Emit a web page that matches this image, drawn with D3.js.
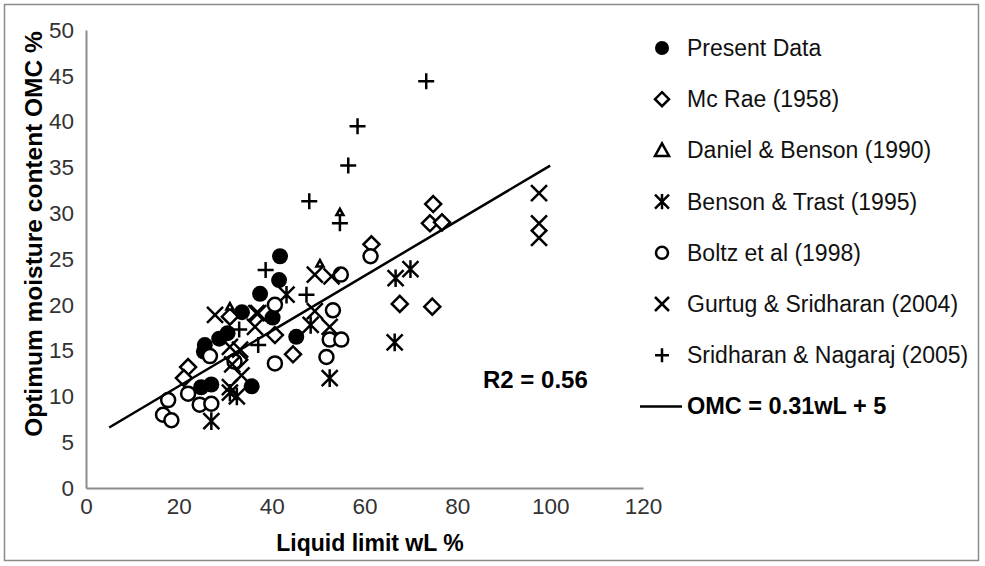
<!DOCTYPE html>
<html lang="en">
<head>
<meta charset="UTF-8" />
<title>OMC vs Liquid limit</title>
<script src="https://d3js.org/d3.v7.min.js"></script>
<style>
  body { margin: 0; background: #fff; }
  svg { display: block; font-family: "Liberation Sans", Arial, sans-serif; }
</style>
</head>
<body>
<div id="chart"></div>
<script>
// data: [wL %, OMC %]
const presentData = [[41.8,25.3],[41.6,22.7],[37.5,21.2],[40.2,18.6],[33.6,19.2],[45.3,16.5],[35.7,11.1],
  [25.6,15.6],[28.7,16.3],[25.4,14.9],[27.0,11.3],[24.8,11.0],[30.5,16.9]];
const mcRae = [[74.8,31.0],[74.1,28.9],[76.7,29.0],[61.5,26.6],[67.6,20.1],[74.6,19.8],
  [40.7,16.7],[44.6,14.6],[22.0,13.2],[21.1,12.0],[31.0,18.7],[33.0,14.0]];
const danielBenson = [[54.7,30.1],[50.4,24.5],[31.0,19.8]];
const bensonTrast = [[66.7,22.9],[69.9,23.9],[66.5,15.9],[43.2,21.1],[48.4,17.8],[52.5,12.0],
  [31.0,10.4],[32.5,10.0],[27.0,7.3]];
const boltz = [[61.3,25.3],[54.9,23.3],[40.7,20.0],[53.2,19.4],[52.5,16.2],[55.0,16.2],[51.8,14.3],
  [40.7,13.6],[26.7,14.4],[22.0,10.3],[24.5,9.1],[27.0,9.2],[17.7,9.6],[16.6,8.0],[18.4,7.4],[32.0,13.8]];
const gurtug = [[97.6,32.2],[97.6,28.9],[97.6,27.3],[49.3,23.3],[52.9,23.1],[49.3,19.3],[52.5,17.6],
  [37.1,19.1],[27.8,18.9],[36.7,19.1],[36.4,17.6],[31.0,15.4],[33.2,15.1],[31.5,13.5],[33.5,12.3],[31.0,11.0]];
const sridharan = [[73.3,44.4],[58.5,39.5],[56.5,35.2],[48.1,31.3],[54.7,28.9],[38.7,23.8],[47.5,21.1],
  [37.1,15.6],[33.0,17.3]];

const seriesNames = ["Present Data", "Mc Rae (1958)", "Daniel & Benson (1990)", "Benson & Trast (1995)",
  "Boltz et al (1998)", "Gurtug & Sridharan (2004)", "Sridharan & Nagaraj (2005)"];
const seriesShapes = ["dot", "diamond", "triangle", "star", "circle", "cross", "plus"];
const seriesData = [presentData, mcRae, danielBenson, bensonTrast, boltz, gurtug, sridharan];
// the Daniel & Benson markers are drawn tiny inside the plot
const plotSizes = [8, 8, 3.5, 8, 8, 8, 8];

const fitX = [5, 100];
const fitY = [6.6, 35.2];
const fitLabel = "OMC = 0.31wL + 5";
const r2Label = "R2 = 0.56";

const xTicks = [0, 20, 40, 60, 80, 100, 120];
const yTicks = [0, 5, 10, 15, 20, 25, 30, 35, 40, 45, 50];

const width = 985, height = 566;
const svg = d3.select("#chart").append("svg")
  .attr("width", width).attr("height", height);

// outer frame
svg.append("rect")
  .attr("x", 4.5).attr("y", 4.5).attr("width", 974).attr("height", 556)
  .attr("fill", "none").attr("stroke", "#8a8a8a").attr("stroke-width", 1.5);

const x = d3.scaleLinear().domain([0, 120]).range([86, 643]);
const y = d3.scaleLinear().domain([0, 50]).range([488, 30]);

const xAxis = svg.append("g").attr("transform", `translate(0,${y(0)})`)
  .call(d3.axisBottom(x).tickValues(xTicks).tickSize(0).tickPadding(10));
const yAxis = svg.append("g").attr("transform", `translate(${x(0)},0)`)
  .call(d3.axisLeft(y).tickValues(yTicks).tickSize(0).tickPadding(12));
[xAxis, yAxis].forEach(g => {
  g.select(".domain").attr("stroke", "#8c8c8c").attr("stroke-width", 2);
  g.selectAll("text").attr("font-size", 22.5).attr("fill", "#333")
    .attr("font-family", "'Liberation Sans', Arial, sans-serif");
});

svg.append("text")
  .attr("x", 370).attr("y", 551)
  .attr("text-anchor", "middle").attr("font-size", 23).attr("font-weight", "bold")
  .text("Liquid limit wL %");
svg.append("text")
  .attr("transform", `translate(42,${(y(0) + y(50)) / 2 - 25}) rotate(-90)`)
  .attr("text-anchor", "middle").attr("font-size", 24.5).attr("font-weight", "bold")
  .text("Optimum moisture content OMC %");

function markerPath(shape, s) {
  switch (shape) {
    case "diamond": return `M0,${-s}L${s},0L0,${s}L${-s},0Z`;
    case "triangle": return `M0,${-s}L${s},${s * 0.8}L${-s},${s * 0.8}Z`;
    case "cross": return `M${-s},${-s}L${s},${s}M${-s},${s}L${s},${-s}`;
    case "plus": return `M${-s},0H${s}M0,${-s}V${s}`;
    case "star": return `M${-s},${-s}L${s},${s}M${-s},${s}L${s},${-s}M0,${-s * 1.1}V${s * 1.1}`;
    default: return null;
  }
}

function drawMarker(g, shape, cx, cy, s) {
  if (shape === "dot") {
    g.append("circle").attr("cx", cx).attr("cy", cy).attr("r", s).attr("fill", "#000");
  } else if (shape === "circle") {
    g.append("circle").attr("cx", cx).attr("cy", cy).attr("r", s - 1)
      .attr("fill", "#fff").attr("stroke", "#000").attr("stroke-width", 2.5);
  } else {
    const filled = shape === "diamond" || shape === "triangle";
    g.append("path").attr("transform", `translate(${cx},${cy})`)
      .attr("d", markerPath(shape, s))
      .attr("fill", filled ? "#fff" : "none").attr("stroke", "#000").attr("stroke-width", 2.5);
  }
}

const plot = svg.append("g");
seriesData.forEach((pts, i) => {
  const g = plot.append("g");
  pts.forEach(d => drawMarker(g, seriesShapes[i], x(d[0]), y(d[1]), plotSizes[i]));
});

// fitted line
plot.append("line")
  .attr("x1", x(fitX[0])).attr("y1", y(fitY[0]))
  .attr("x2", x(fitX[1])).attr("y2", y(fitY[1]))
  .attr("stroke", "#000").attr("stroke-width", 2.5);

svg.append("text")
  .attr("x", 483).attr("y", 388)
  .attr("font-size", 24).attr("font-weight", "bold")
  .text(r2Label);

// legend
const legend = svg.append("g");
const rowY = i => 48 + i * 51.2;
seriesNames.forEach((name, i) => {
  drawMarker(legend, seriesShapes[i], 662, rowY(i), 7);
  legend.append("text").attr("x", 687).attr("y", rowY(i) + 8)
    .attr("font-size", 23).attr("fill", "#111").text(name);
});
legend.append("line")
  .attr("x1", 640).attr("x2", 682).attr("y1", rowY(7)).attr("y2", rowY(7))
  .attr("stroke", "#000").attr("stroke-width", 2.5);
legend.append("text").attr("x", 687).attr("y", rowY(7) + 8)
  .attr("font-size", 23.5).attr("font-weight", "bold").text(fitLabel);
</script>
</body>
</html>
